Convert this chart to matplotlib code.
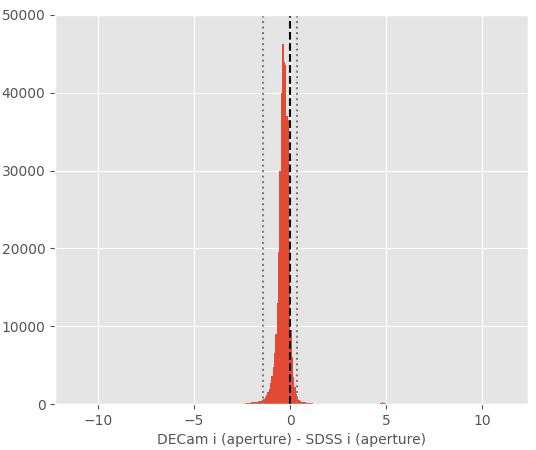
import numpy as np
import matplotlib
matplotlib.use("Agg")
import matplotlib.pyplot as plt

plt.style.use("ggplot")

# histogram: 320 bins of width 0.07 between -11.12 and 11.28
hist_lo, hist_hi, n_bins = -11.12, 11.28, 320

# counts of the central bins, starting at the bin whose left edge is -2.37
core_start = -2.37
core_counts = [100, 130, 150, 170, 200, 220, 250, 280, 300, 320,
               350, 400, 450, 550, 700, 900, 1200, 1500, 1900, 2700,
               3600, 4800, 6500, 9000, 13000, 19500, 30000, 40000, 46200, 44000,
               43500, 37000, 36500, 21000, 9500, 6000, 3500, 2200, 1300, 800,
               550, 400, 330, 280, 240, 210, 180, 160, 140, 120,
               100]

# small bump of outliers near +5
bump_start = 4.70
bump_counts = [200, 210, 200, 190]

median_offset = 0.0
clip_low, clip_high = -1.39, 0.38

edges = np.linspace(hist_lo, hist_hi, n_bins + 1)
width = (hist_hi - hist_lo) / n_bins
centers = [core_start + width * (i + 0.5) for i in range(len(core_counts))]
centers += [bump_start + width * (i + 0.5) for i in range(len(bump_counts))]
counts = core_counts + bump_counts

fig = plt.figure(figsize=(5.36, 4.5), dpi=100)
ax = fig.add_axes([0.103, 0.102, 0.882, 0.865])

ax.hist(centers, bins=edges, weights=counts)
ax.axvline(median_offset, color="k", ls="--")
ax.axvline(clip_low, color="gray", ls=":")
ax.axvline(clip_high, color="gray", ls=":")

ax.set_xlim(-12.24, 12.4)
ax.set_ylim(0, 50000)
ax.set_xlabel("DECam i (aperture) - SDSS i (aperture)", fontsize=10)

fig.savefig("out.png", dpi=100)
